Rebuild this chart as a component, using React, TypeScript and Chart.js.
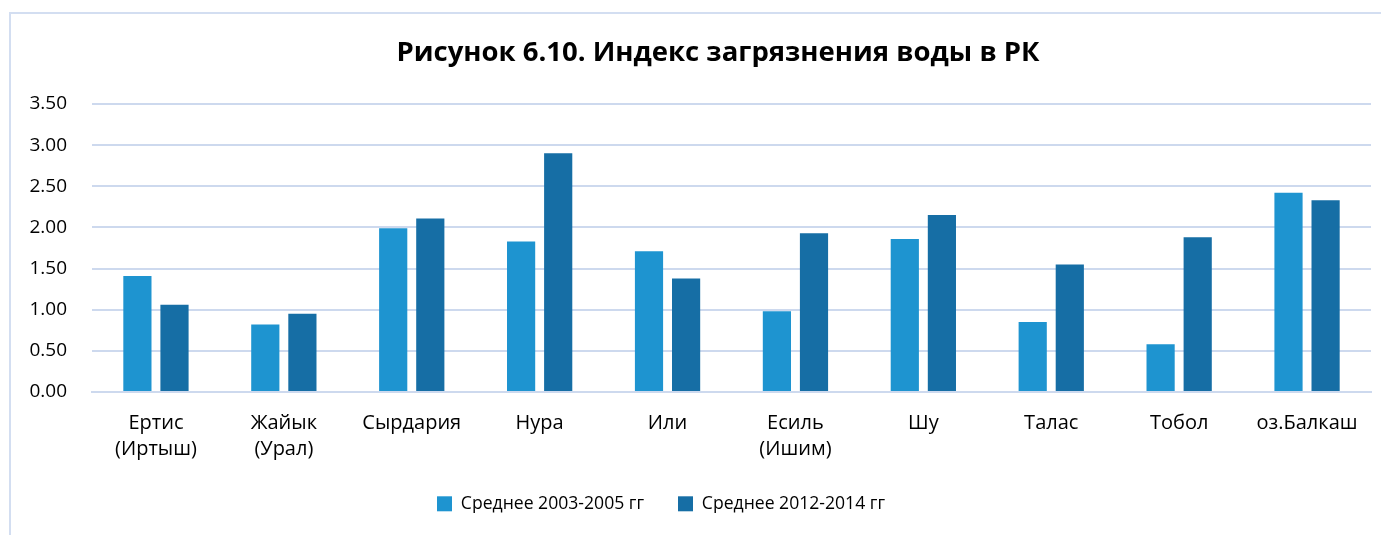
import React, { useEffect, useRef } from "react";
import { Chart, registerables } from "chart.js";

Chart.register(...registerables);

const categories: (string | string[])[] = [
  ["Ертис", "(Иртыш)"],
  ["Жайык", "(Урал)"],
  "Сырдария",
  "Нура",
  "Или",
  ["Есиль", "(Ишим)"],
  "Шу",
  "Талас",
  "Тобол",
  "оз.Балкаш",
];
const series2003_2005 = [1.41, 0.82, 1.99, 1.83, 1.71, 0.98, 1.86, 0.85, 0.58, 2.42];
const series2012_2014 = [1.06, 0.95, 2.11, 2.9, 1.38, 1.93, 2.15, 1.55, 1.88, 2.33];
const seriesLabels = ["Среднее 2003-2005 гг", "Среднее 2012-2014 гг"];
const titleText = "Рисунок 6.10. Индекс загрязнения воды в РК";

const FONT = "'Open Sans', 'DejaVu Sans', sans-serif";

const LEGEND_H = 55;
const LEGEND_SHIFT_Y = -19;
const LEGEND_SHIFT_X = -38;

const tweakPlugin = {
  id: "tweak",
  beforeInit(chart: any) {
    const lg = chart.legend;
    if (lg) {
      const f = lg.fit.bind(lg);
      lg.fit = function () {
        f();
        this.height = LEGEND_H;
      };
    }
  },
  afterLayout(chart: any) {
    const lg = chart.legend;
    if (lg) {
      lg.top += LEGEND_SHIFT_Y;
      lg.bottom += LEGEND_SHIFT_Y;
      lg.left += LEGEND_SHIFT_X;
      lg.right += LEGEND_SHIFT_X;
    }
  },
  afterDraw(chart: any) {
    const ctx = chart.ctx;
    ctx.save();
    ctx.font = "bold 27.5px " + FONT;
    ctx.fillStyle = "#000";
    ctx.textAlign = "center";
    ctx.textBaseline = "middle";
    ctx.fillText(titleText, 718, 53);
    ctx.restore();
  },
};

export default function App() {
  const ref = useRef<HTMLCanvasElement | null>(null);
  useEffect(() => {
    if (!ref.current) return;
    const chart = new Chart(ref.current, {
      type: "bar",
      data: {
        labels: categories,
        datasets: [
          {
            label: seriesLabels[0],
            data: series2003_2005,
            backgroundColor: "#1e94d0",
            categoryPercentage: 0.58,
            barPercentage: 0.76,
          },
          {
            label: seriesLabels[1],
            data: series2012_2014,
            backgroundColor: "#166ea5",
            categoryPercentage: 0.58,
            barPercentage: 0.76,
          },
        ],
      },
      plugins: [tweakPlugin],
      options: {
        animation: false,
        responsive: false,
        maintainAspectRatio: false,
        layout: { padding: { left: 27, right: 10, top: 104, bottom: 0 } },
        plugins: {
          title: { display: false },
          legend: {
            position: "bottom",
            labels: {
              color: "#000",
              font: { family: FONT, size: 17.6 },
              boxWidth: 15,
              boxHeight: 15,
              padding: 34,
            },
          },
          tooltip: { enabled: false },
        },
        scales: {
          x: {
            grid: { display: false, drawTicks: false },
            border: { display: true, color: "#cdd9ee", width: 2 },
            ticks: {
              color: "#000",
              font: { family: FONT, size: 20, lineHeight: 1.3 },
              padding: 18,
              maxRotation: 0,
              autoSkip: false,
            },
          },
          y: {
            min: 0,
            max: 3.5,
            afterFit: (s: any) => {
              s.width = 65;
            },
            grid: { color: "#cdd9ee", lineWidth: 2, drawTicks: false },
            border: { display: false },
            ticks: {
              stepSize: 0.5,
              color: "#000",
              padding: 25,
              font: { family: FONT, size: 19 },
              callback: (v: any) => Number(v).toFixed(2),
            },
          },
        },
      },
    });
    return () => chart.destroy();
  }, []);
  return (
    <div style={{ position: "fixed", left: 0, top: 0, width: 1381, height: 535, overflow: "hidden", background: "#fff" }}>
      <div
        style={{
          position: "absolute",
          left: 9,
          top: 12,
          width: 1400,
          height: 560,
          border: "2px solid #d3def1",
          boxSizing: "border-box",
        }}
      />
      <canvas ref={ref} width={1381} height={535} style={{ position: "absolute", left: 0, top: 0, width: 1381, height: 535 }} />
    </div>
  );
}
